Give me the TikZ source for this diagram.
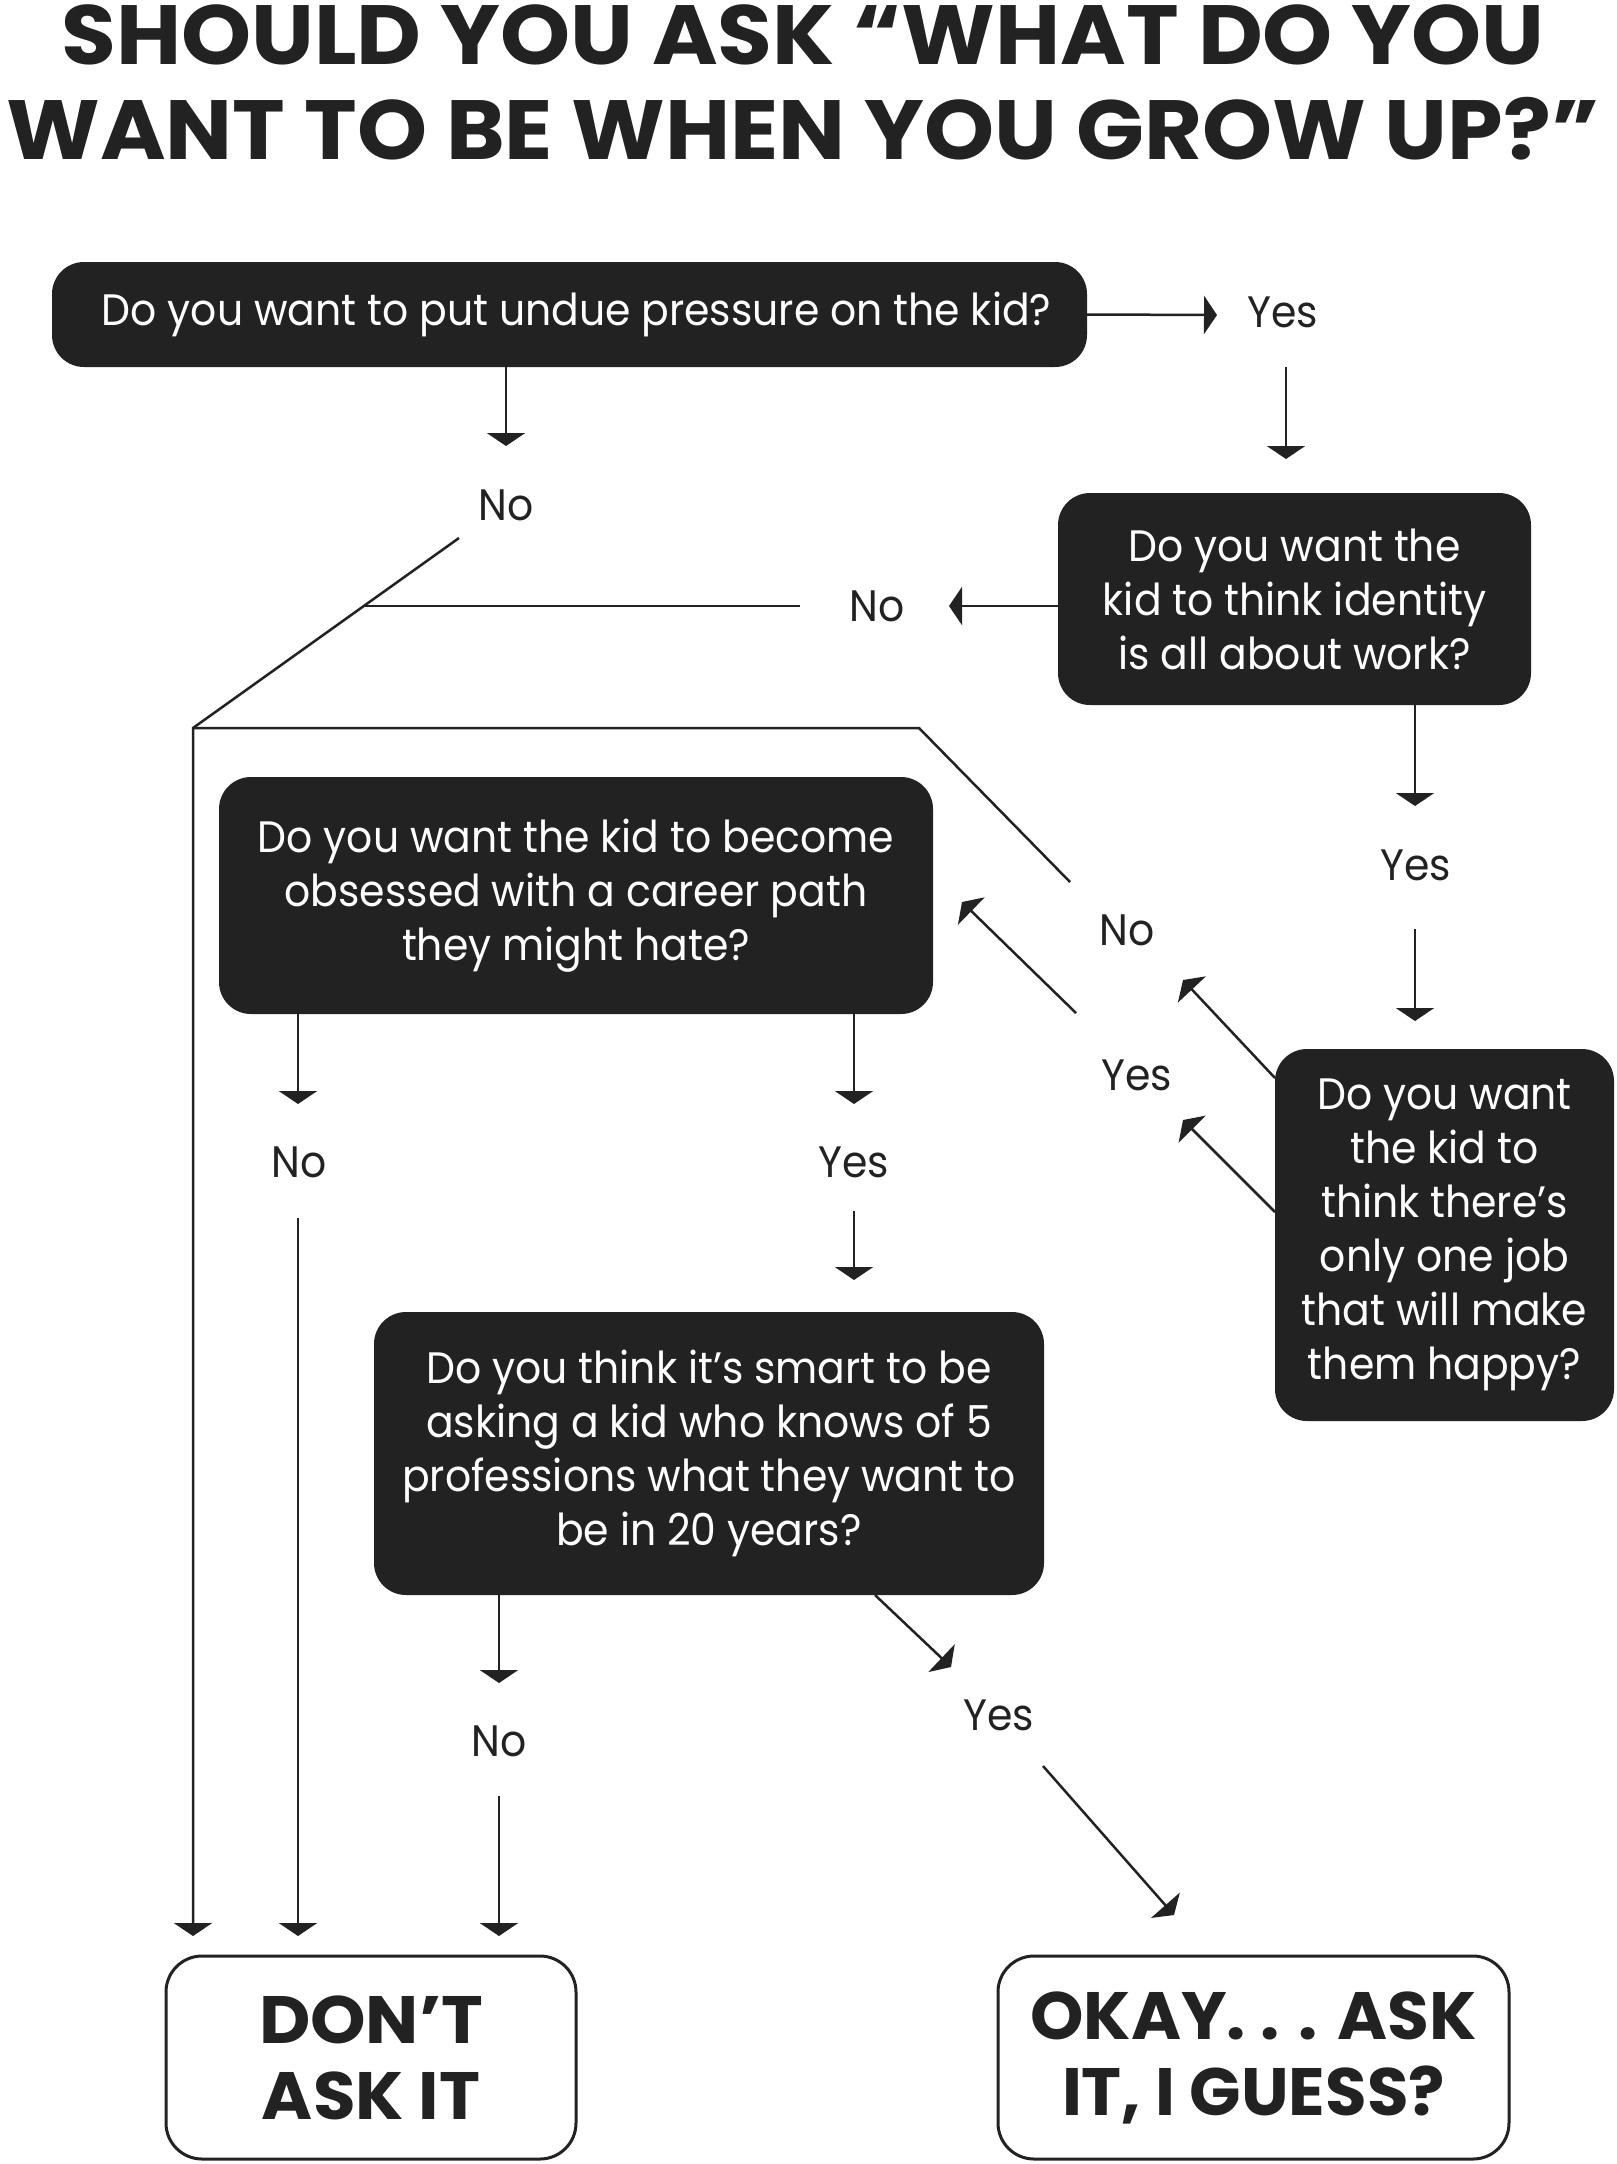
\documentclass[tikz,border=0pt]{standalone}
\usepackage{fontspec}
\usepackage{graphicx}
\setmainfont{Poppins}[FakeStretch=0.93]
\usetikzlibrary{arrows.meta}
\definecolor{ink}{HTML}{222222}
\newcommand\qfont{\fontsize{44}{54}\selectfont}
\newcommand\tfont{\fontsize{84}{95}\selectfont\bfseries}
\newcommand\efont{\fontsize{67}{76}\selectfont\bfseries}
\tikzset{
  qbox/.style={fill=ink, text=white, rounded corners=32pt, inner sep=0pt, align=center, font=\qfont},
  endbox/.style={draw=ink, line width=3pt, rounded corners=36pt, fill=white, text=ink, inner sep=0pt, align=center, font=\efont},
  lbl/.style={text=ink, font=\qfont, inner sep=0pt},
  ttl/.style={text=ink, font=\tfont, inner sep=0pt, anchor=base},
  arr/.style={draw=ink, line width=2.5pt, -{Triangle[width=38pt,length=13pt]}},
  ln/.style={draw=ink, line width=2.5pt},
}
\begin{document}
\begin{tikzpicture}[x=1pt,y=-1pt]
\fill[white] (0,0) rectangle (1617,2164);
\useasboundingbox (0,0) rectangle (1617,2164);

% title
\node[ttl] (title1) at (803,64) {\resizebox{1483pt}{\height}{SHOULD YOU ASK “WHAT DO YOU}};
\node[ttl] (title2) at (803,159) {\resizebox{1593pt}{\height}{WANT TO BE WHEN YOU GROW UP?”}};

% questions
\node[qbox, minimum width=1035pt, minimum height=105pt] (q1) at (569.5,314.5) {\hspace*{14pt}\raisebox{-7pt}{Do you want to put undue pressure on the kid?}};
\node[qbox, minimum width=473pt, minimum height=212pt] (q2) at (1294.5,599) {Do you want the\\kid to think identity\\is all about work?};
\node[qbox, minimum width=714pt, minimum height=237pt] (q3) at (576,895.5) {Do you want the kid to become\\obsessed with a career path\\they might hate?};
\node[qbox, minimum width=339pt, minimum height=372pt] (q4) at (1444.5,1235) {Do you want\\the kid to\\think there’s\\only one job\\that will make\\them happy?};
\node[qbox, minimum width=670pt, minimum height=283pt] (q5) at (709,1453.5) {Do you think it’s smart to be\\asking a kid who knows of 5\\professions what they want to\\be in 20 years?};

% end boxes
\node[endbox, minimum width=410pt, minimum height=203pt] (dont) at (371,2057.5) {\resizebox{224pt}{\height}{DON’T}\\\resizebox{218pt}{\height}{ASK IT}};
\node[endbox, minimum width=511pt, minimum height=203pt] (okay) at (1253.5,2057.5) {\resizebox{446pt}{\height}{OKAY. . . ASK}\\\resizebox{383pt}{\height}{IT, I GUESS?}};

% labels
\node[lbl] (y1) at (1283,312) {Yes};
\node[lbl] (n1) at (506,505) {No};
\node[lbl] (n2) at (877,606) {No};
\node[lbl] (y2) at (1416,865) {Yes};
\node[lbl] (n3) at (1127,930) {No};
\node[lbl] (y3) at (1137,1075) {Yes};
\node[lbl] (n4) at (299,1162) {No};
\node[lbl] (y4) at (854,1162) {Yes};
\node[lbl] (n5) at (499,1741) {No};
\node[lbl] (y5) at (999,1715) {Yes};

% coordinates
\coordinate (t1) at (1217,315);
\coordinate (s2) at (1286,367);
\coordinate (t2) at (1286,459);
\coordinate (t3) at (506,446);
\coordinate (t4) at (949,606);
\coordinate (c1) at (800,606);
\coordinate (c2) at (365,606);
\coordinate (c3) at (459,538);
\coordinate (c4) at (193,728);
\coordinate (t5) at (193,1936);
\coordinate (c5) at (1070,882);
\coordinate (c6) at (919,728);
\coordinate (t6) at (1415,806);
\coordinate (s7) at (1415,929);
\coordinate (t7) at (1415,1021);
\coordinate (s8) at (1275,1078);
\coordinate (t8) at (1183,980);
\coordinate (s9) at (1275,1212);
\coordinate (t9) at (1183,1120);
\coordinate (s10) at (1076,1013);
\coordinate (t10) at (962,902);
\coordinate (t11) at (298,1104);
\coordinate (s12) at (298,1218);
\coordinate (t12) at (298,1936);
\coordinate (t13) at (854,1104);
\coordinate (s14) at (854,1211);
\coordinate (t14) at (854,1280);
\coordinate (t15) at (499,1683);
\coordinate (s16) at (499,1796);
\coordinate (t16) at (499,1936);
\coordinate (s17) at (875,1595);
\coordinate (t17) at (951,1667);
\coordinate (s18) at (1043,1766);
\coordinate (t18) at (1174,1915);

% connectors
\draw[arr] (q1.east) -- (t1);
\draw[arr] (s2) -- (t2);
\draw[arr] (q1.south -| n1) -- (t3);
\draw[arr] (q2.west |- n2) -- (t4);
\draw[ln] (c1) -- (c2);
\draw[arr] (c3) -- (c4) -- (t5);
\draw[ln] (c5) -- (c6) -- (c4);
\draw[arr] (q2.south -| t6) -- (t6);
\draw[arr] (s7) -- (t7);
\draw[arr] (s8) -- (t8);
\draw[arr] (s9) -- (t9);
\draw[arr] (s10) -- (t10);
\draw[arr] (q3.south -| t11) -- (t11);
\draw[arr] (s12) -- (t12);
\draw[arr] (q3.south -| t13) -- (t13);
\draw[arr] (s14) -- (t14);
\draw[arr] (q5.south -| t15) -- (t15);
\draw[arr] (s16) -- (t16);
\draw[arr] (s17) -- (t17);
\draw[arr] (s18) -- (t18);
\end{tikzpicture}
\end{document}
